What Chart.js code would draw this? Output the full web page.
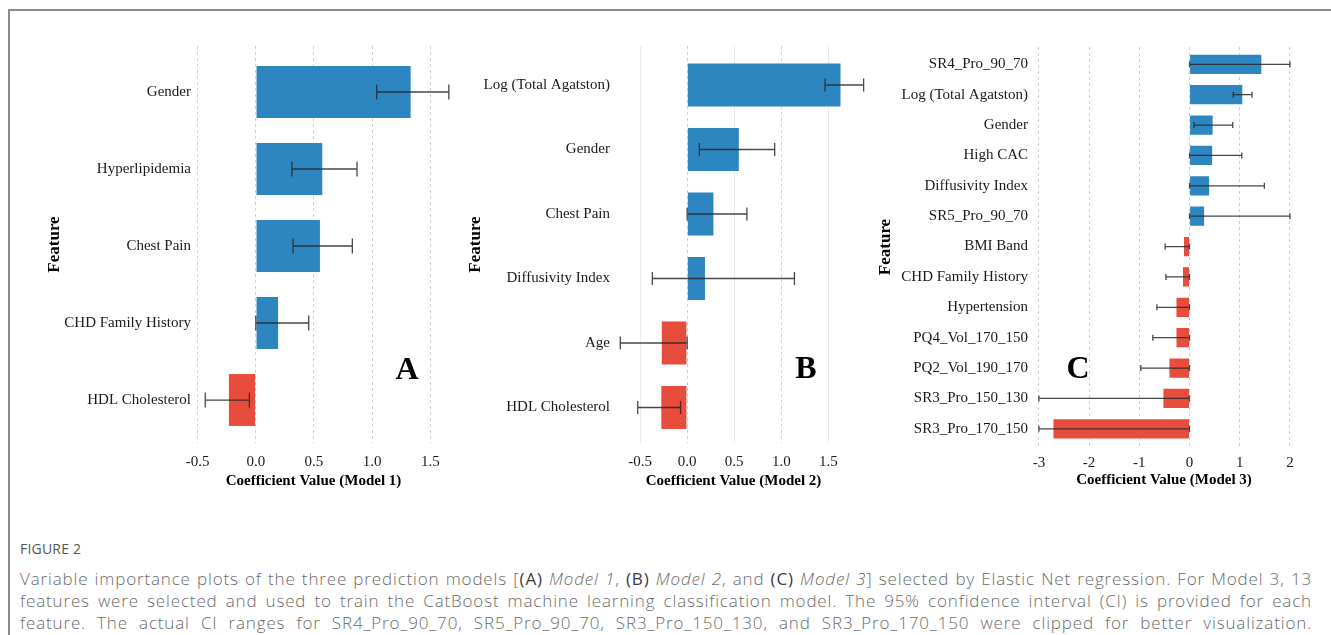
<!DOCTYPE html>
<html>
<head>
<meta charset="utf-8">
<title>Figure 2</title>
<script src="https://cdn.jsdelivr.net/npm/chart.js@4.4.0/dist/chart.umd.min.js"></script>
<style>
    body {
        margin: 0;
        width: 1331px;
        height: 635px;
        background: #fff;
        position: relative;
        overflow: hidden;
        font-family: 'Open Sans', 'Noto Sans', sans-serif;
    }
    .frame {
        position: absolute;
        left: 8px;
        top: 9px;
        width: 1340px;
        height: 640px;
        border-top: 2px solid #8c8c8c;
        border-left: 2px solid #8c8c8c;
    }
    canvas {
        position: absolute;
        top: 0;
    }
    .letter {
        position: absolute;
        font: bold 32px 'Liberation Serif', 'Times New Roman', serif;
        color: #000;
        line-height: 1;
        transform: translate(-50%, -50%);
    }
    .fig-label {
        position: absolute;
        left: 20px;
        top: 540px;
        font-size: 14px;
        line-height: 18px;
        color: #555;
        letter-spacing: 0.2px;
    }
    .cap {
        position: absolute;
        left: 20px;
        width: 1292px;
        font-size: 17px;
        line-height: 22px;
        font-weight: 300;
        letter-spacing: 0.85px;
        color: #6b6b6b;
        text-align: justify;
        text-align-last: justify;
    }
    .cap b {
        font-weight: 400;
        color: #3a3a3a;
    }
</style>
</head>
<body>
<div class="frame"></div>

<canvas id="chart-a" width="470" height="500" style="left:0px"></canvas>
<canvas id="chart-b" width="440" height="500" style="left:440px"></canvas>
<canvas id="chart-c" width="471" height="500" style="left:860px"></canvas>

<div class="letter" style="left:407px; top:368px">A</div>
<div class="letter" style="left:806px; top:367px">B</div>
<div class="letter" style="left:1078px; top:367px">C</div>

<div class="fig-label">FIGURE 2</div>
<div class="cap" style="top:568px">Variable importance plots of the three prediction models [<b>(A)</b> <i>Model 1</i>, <b>(B)</b> <i>Model 2</i>, and <b>(C)</b> <i>Model 3</i>] selected by Elastic Net regression. For Model 3, 13</div>
<div class="cap" style="top:590px">features were selected and used to train the CatBoost machine learning classification model. The 95% confidence interval (CI) is provided for each</div>
<div class="cap" style="top:612px">feature. The actual CI ranges for SR4_Pro_90_70, SR5_Pro_90_70, SR3_Pro_150_130, and SR3_Pro_170_150 were clipped for better visualization.</div>

<script>
// Modelo 1
const labelsA = ['Gender', 'Hyperlipidemia', 'Chest Pain', 'CHD Family History', 'HDL Cholesterol'];
const valuesA = [1.34, 0.58, 0.56, 0.20, -0.24];
const ciLowA = [1.04, 0.31, 0.32, 0.0, -0.435];
const ciHighA = [1.66, 0.87, 0.83, 0.455, -0.055];
const gridA = [-0.5, -0.25, 0, 0.25, 0.5, 0.75, 1, 1.25, 1.5];
const tickValsA = [-0.5, 0, 0.5, 1, 1.5];
const tickLabelsA = ['-0.5', '0.0', '0.5', '1.0', '1.5'];

// Modelo 2
const labelsB = ['Log (Total Agatston)', 'Gender', 'Chest Pain', 'Diffusivity Index', 'Age', 'HDL Cholesterol'];
const valuesB = [1.64, 0.56, 0.29, 0.20, -0.28, -0.285];
const ciLowB = [1.465, 0.13, 0.0, -0.37, -0.71, -0.525];
const ciHighB = [1.875, 0.93, 0.635, 1.14, 0.0, -0.07];
const gridB = [-0.5, 0, 0.5, 1, 1.5];
const tickValsB = [-0.5, 0, 0.5, 1, 1.5];
const tickLabelsB = ['-0.5', '0.0', '0.5', '1.0', '1.5'];

// Modelo 3
const labelsC = ['SR4_Pro_90_70', 'Log (Total Agatston)', 'Gender', 'High CAC', 'Diffusivity Index', 'SR5_Pro_90_70',
    'BMI Band', 'CHD Family History', 'Hypertension', 'PQ4_Vol_170_150', 'PQ2_Vol_190_170', 'SR3_Pro_150_130', 'SR3_Pro_170_150'];
const valuesC = [1.45, 1.07, 0.48, 0.47, 0.41, 0.31, -0.13, -0.15, -0.28, -0.28, -0.42, -0.54, -2.73];
const ciLowC = [0, 0.87, 0.09, 0, 0, 0, -0.485, -0.47, -0.65, -0.73, -0.97, -3.0, -3.0];
const ciHighC = [2.0, 1.245, 0.86, 1.04, 1.49, 2.0, 0, 0, 0, 0, 0, 0, 0];
const gridC = [-3, -2.5, -2, -1.5, -1, -0.5, 0, 0.5, 1, 1.5, 2];
const tickValsC = [-3, -2, -1, 0, 1, 2];
const tickLabelsC = ['-3', '-2', '-1', '0', '1', '2'];

const BLUE = '#2e86c1';
const RED = '#e74c3c';
const SERIF = "'Liberation Serif', 'Times New Roman', serif";

// barras de erro (IC 95%) desenhadas por cima das barras
const errorBarPlugin = {
    id: 'errorBars',
    afterDatasetsDraw(chart, args, opts) {
        const ctx = chart.ctx;
        const xs = chart.scales.x;
        const meta = chart.getDatasetMeta(0);
        ctx.save();
        ctx.strokeStyle = 'rgba(40, 40, 40, 0.85)';
        ctx.lineWidth = 1.3;
        meta.data.forEach(function(bar, i) {
            const x1 = xs.getPixelForValue(opts.low[i]);
            const x2 = xs.getPixelForValue(opts.high[i]);
            const y = bar.y;
            const h = opts.cap / 2;
            ctx.beginPath();
            ctx.moveTo(x1, y); ctx.lineTo(x2, y);
            ctx.moveTo(x1, y - h); ctx.lineTo(x1, y + h);
            ctx.moveTo(x2, y - h); ctx.lineTo(x2, y + h);
            ctx.stroke();
        });
        ctx.restore();
    }
};

function makePanel(id, p) {
    const canvas = document.getElementById(id);
    const isDashed = function(v) {
        return Math.abs(v / p.dashStep - Math.round(v / p.dashStep)) < 1e-9;
    };
    new Chart(canvas, {
        type: 'bar',
        data: {
            datasets: [{
                data: p.values.map(function(v, i) { return { x: v, y: i }; }),
                backgroundColor: p.values.map(function(v) { return v >= 0 ? BLUE : RED; }),
                borderColor: 'rgba(255, 255, 255, 0.35)',
                borderWidth: 1,
                categoryPercentage: 1,
                barPercentage: 0.7
            }]
        },
        options: {
            indexAxis: 'y',
            responsive: false,
            animation: false,
            layout: { padding: p.padding },
            plugins: {
                legend: { display: false },
                tooltip: { enabled: false },
                errorBars: { low: p.low, high: p.high, cap: p.cap }
            },
            scales: {
                x: {
                    type: 'linear',
                    min: p.xMin,
                    max: p.xMax,
                    bounds: 'data',
                    afterBuildTicks: function(axis) {
                        axis.ticks = p.grid.map(function(v) { return { value: v }; });
                    },
                    afterFit: function(axis) { axis.height = p.xHeight; },
                    grid: {
                        drawTicks: false,
                        lineWidth: 1,
                        color: function(c) { return isDashed(c.tick.value) ? '#cfcfcf' : '#ebebeb'; }
                    },
                    border: {
                        display: false,
                        dash: function(c) { return c.tick && isDashed(c.tick.value) ? [3, 3] : []; }
                    },
                    ticks: {
                        autoSkip: false,
                        maxRotation: 0,
                        padding: p.xTickPad,
                        color: '#1a1a1a',
                        font: { family: SERIF, size: 15 },
                        callback: function(v) {
                            const k = p.tickVals.indexOf(v);
                            return k >= 0 ? p.tickLabels[k] : null;
                        }
                    },
                    title: {
                        display: true,
                        text: p.xTitle,
                        color: '#000',
                        font: { family: SERIF, size: 15, weight: 'bold' },
                        padding: { top: 0, bottom: p.xTitlePad }
                    }
                },
                y: {
                    type: 'linear',
                    reverse: true,
                    offset: false,
                    min: p.yMin,
                    max: p.yMax,
                    bounds: 'data',
                    afterBuildTicks: function(axis) {
                        axis.ticks = p.labels.map(function(l, i) { return { value: i }; });
                    },
                    afterFit: function(axis) { axis.width = p.yWidth; },
                    grid: { display: false, drawTicks: false },
                    border: { display: false },
                    ticks: {
                        autoSkip: false,
                        padding: 4,
                        color: '#1a1a1a',
                        font: { family: SERIF, size: 15 },
                        callback: function(v) { return p.labels[v]; }
                    },
                    title: {
                        display: true,
                        text: 'Feature',
                        color: '#000',
                        font: { family: SERIF, size: 17, weight: 'bold' },
                        padding: { top: 0, bottom: 0 }
                    }
                }
            }
        },
        plugins: [errorBarPlugin]
    });
}

window.addEventListener('load', function() {
    if (typeof Chart === 'undefined') {
        console.error('Chart.js não disponível');
        return;
    }

    makePanel('chart-a', {
        labels: labelsA, values: valuesA, low: ciLowA, high: ciHighA,
        grid: gridA, tickVals: tickValsA, tickLabels: tickLabelsA, dashStep: 0.5,
        xTitle: 'Coefficient Value (Model 1)',
        xMin: -0.523, xMax: 1.515, yMin: -0.597, yMax: 4.558,
        padding: { left: 44, right: 38, top: 46, bottom: 0 },
        yWidth: 151, xHeight: 57, xTickPad: 10, xTitlePad: 10, cap: 15
    });

    makePanel('chart-b', {
        labels: labelsB, values: valuesB, low: ciLowB, high: ciHighB,
        grid: gridB, tickVals: tickValsB, tickLabels: tickLabelsB, dashStep: 1,
        xTitle: 'Coefficient Value (Model 2)',
        xMin: -0.777, xMax: 1.762, yMin: -0.605, yMax: 5.55,
        padding: { left: 25, right: 27, top: 46, bottom: 0 },
        yWidth: 149, xHeight: 57, xTickPad: 10, xTitlePad: 10, cap: 13
    });

    makePanel('chart-c', {
        labels: labelsC, values: valuesC, low: ciLowC, high: ciHighC,
        grid: gridC, tickVals: tickValsC, tickLabels: tickLabelsC, dashStep: 1,
        xTitle: 'Coefficient Value (Model 3)',
        xMin: -3.137, xMax: 2.12, yMin: -0.57, yMax: 12.6,
        padding: { left: 15, right: 35, top: 47, bottom: 0 },
        yWidth: 157, xHeight: 53, xTickPad: 7, xTitlePad: 11, cap: 6
    });
});
</script>
</body>
</html>
